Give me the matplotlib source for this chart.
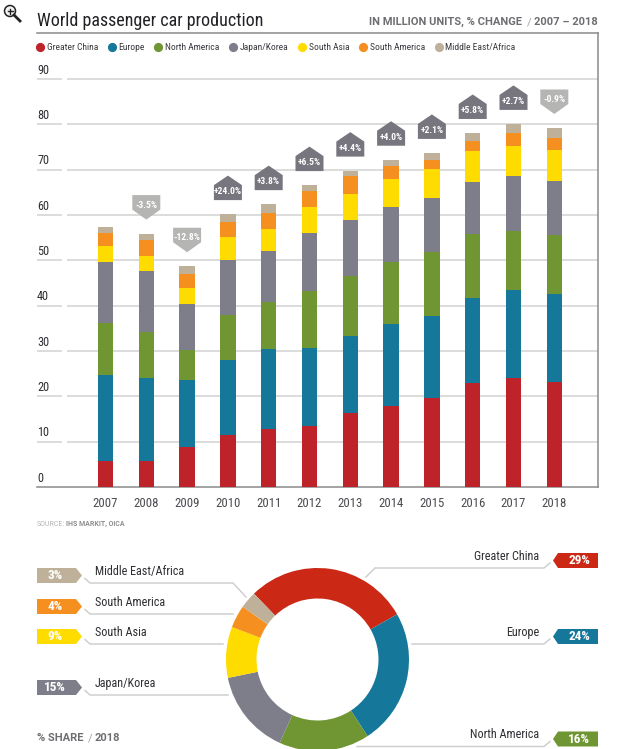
import matplotlib
matplotlib.use("Agg")
import matplotlib.pyplot as plt
from matplotlib.lines import Line2D
from matplotlib.patches import Polygon, Circle
from matplotlib.transforms import ScaledTranslation

W, H = 620, 749
NARROW = ['Roboto Condensed', 'Liberation Sans Narrow', 'Roboto', 'DejaVu Sans']
ROBOTO = ['Roboto', 'DejaVu Sans']
plt.rcParams['font.family'] = NARROW

years = list(range(2007, 2019))
regions = ['Greater China', 'Europe', 'North America', 'Japan/Korea',
           'South Asia', 'South America', 'Middle East/Africa']
greater_china = [5.7, 5.8, 8.8, 11.5, 12.7, 13.5, 16.3, 17.9, 19.6, 22.9, 24.0, 23.2]
europe = [19.0, 18.2, 14.8, 16.6, 17.7, 17.1, 17.1, 18.1, 18.1, 18.8, 19.5, 19.4]
north_america = [11.4, 10.3, 6.6, 9.9, 10.5, 12.6, 13.1, 13.7, 14.1, 14.1, 13.0, 12.9]
japan_korea = [13.6, 13.3, 10.1, 12.0, 11.1, 12.9, 12.5, 12.1, 12.0, 11.5, 12.1, 12.1]
south_asia = [3.5, 3.3, 3.5, 5.1, 4.9, 5.7, 5.7, 6.2, 6.4, 6.8, 6.6, 6.8]
south_america = [2.9, 3.5, 3.1, 3.3, 3.5, 3.5, 3.8, 2.9, 2.0, 2.2, 2.9, 2.6]
middle_east = [1.3, 1.5, 1.8, 1.8, 2.0, 1.3, 1.3, 1.3, 1.5, 1.8, 2.0, 2.2]
series = [greater_china, europe, north_america, japan_korea, south_asia, south_america, middle_east]
changes = ['', '-3.5%', '-12.8%', '+24.0%', '+3.8%', '+6.5%', '+4.4%', '+4.0%', '+2.1%', '+5.8%', '+2.7%', '-0.9%']
shares = [29, 24, 16, 15, 9, 4, 3]
yticks = [0, 10, 20, 30, 40, 50, 60, 70, 80, 90]

colors = ['#BE2329', '#15779A', '#6F9632', '#7E7E8A', '#FFDC00', '#F58F20', '#BFB199']
donut_colors = ['#CB2916', '#15779A', '#6F9632', '#7E7E8A', '#FFDC00', '#F58F20', '#BFB199']
INK, GREY, RULE = '#2E2E33', '#6E6E72', '#D5D5D5'

fig = plt.figure(figsize=(W / 100, H / 100), dpi=100, facecolor='white')


def box(l, t, r, b):
    return [l / W, 1 - b / H, (r - l) / W, (b - t) / H]


# Stacked bars
ax = fig.add_axes(box(37, 33, 598, 487))
step = 40.8
ax.set_xlim(2007 - (105.5 - 37) / step, 2007 + (598 - 105.5) / step)
ax.set_ylim(0, (487 - 33) / 4.533)
bottom = [0] * len(years)
for name, vals, c in zip(regions, series, colors):
    ax.bar(years, vals, 15.5 / step, bottom=bottom, color=c, label=name, zorder=3)
    bottom = [a + b for a, b in zip(bottom, vals)]
totals = bottom

ax.spines['left'].set_visible(False)
for s in ('top', 'right', 'bottom'):
    ax.spines[s].set_color('#8A8A8A')
    ax.spines[s].set_linewidth(1.1)
ytrans = ax.get_yaxis_transform()
for v in yticks[1:]:
    ax.plot([0, 25 / 561], [v, v], transform=ytrans, color=RULE, lw=1.2, zorder=1, solid_capstyle='butt')
    ax.plot([30 / 561, 1], [v, v], transform=ytrans, color=RULE, lw=1.2, zorder=1, solid_capstyle='butt')

ax.set_yticks(yticks)
ax.tick_params(axis='y', length=0, pad=0, labelsize=8.8, labelcolor=INK)
shift = ScaledTranslation(0, 7.5 / 72, fig.dpi_scale_trans)
for lab in ax.get_yticklabels():
    lab.set_ha('left')
    lab.set_transform(lab.get_transform() + shift)
ax.set_xticks(years)
ax.tick_params(axis='x', length=0, pad=7, labelsize=9.2, labelcolor='#4A4A50')

handles = [Line2D([], [], ls='', marker='o', ms=5.6, color=c) for c in colors]
leg = ax.legend(handles, regions, ncol=7, frameon=False, loc='center left',
                bbox_to_anchor=(-0.007, (487 - 48) / 454), prop={'size': 6.8},
                handletextpad=0.0, columnspacing=0.7, handlelength=1.45, borderpad=0, borderaxespad=0)
for t in leg.get_texts():
    t.set_color('#3A3A40')

# Overlay in image pixels for titles, badges and leader lines
ov = fig.add_axes([0, 0, 1, 1], zorder=5)
ov.set_xlim(0, W)
ov.set_ylim(H, 0)
ov.axis('off')
ov.patch.set_alpha(0)


def to_px(x, y):
    px, py = ax.transData.transform((x, y))
    return px * W / fig.bbox.width, H - py * H / fig.bbox.height


ov.text(37, 20.5, 'World passenger car production', family=NARROW, size=13, color='#222226',
        va='center', ha='left')
ov.text(522, 22, 'IN MILLION UNITS, % CHANGE', family=ROBOTO, size=8, weight='bold', color=GREY, va='center', ha='right')
ov.text(529, 22, '/', family=ROBOTO, size=8, color='#A0A0A0', va='center', ha='center')
ov.text(598, 22, '2007 – 2018', family=ROBOTO, size=8, weight='bold', color=GREY, va='center', ha='right')
ov.text(37, 524, 'SOURCE:', family=ROBOTO, size=5, color='#B5B5B5', va='center', ha='left')
ov.text(66, 524, 'IHS MARKIT, OICA', family=ROBOTO, size=5, weight='bold', color='#8E8E8E', va='center', ha='left')
ov.text(37, 738, '% SHARE', family=ROBOTO, size=8, weight='bold', color=GREY, va='center', ha='left')
ov.text(88, 738, '/', family=ROBOTO, size=8, color='#A0A0A0', va='center', ha='left')
ov.text(95, 738, '2018', family=ROBOTO, size=8, weight='bold', color=GREY, va='center', ha='left')

# Change badges above each bar
for yr, total, label in zip(years, totals, changes):
    if not label:
        continue
    cx, top = to_px(yr, total)
    hw = 14
    if label.startswith('+'):
        b = top - 14
        verts = [(cx - hw, b), (cx + hw, b), (cx + hw, b - 15), (cx, b - 24.5), (cx - hw, b - 15)]
        fc, ty = '#77767F', b - 8.5
    else:
        a = top - 14
        verts = [(cx - hw, a - 24.5), (cx + hw, a - 24.5), (cx + hw, a - 10), (cx, a), (cx - hw, a - 10)]
        fc, ty = '#B5B6B4', a - 14.5
    ov.add_patch(Polygon(verts, closed=True, fc=fc, ec='none'))
    ov.text(cx, ty, label, color='white', size=6.8, weight='bold', ha='center', va='center')

# Donut
dax = fig.add_axes(box(226, 568, 409, 751))
dax.pie(shares, colors=donut_colors, startangle=134, counterclock=False, radius=1,
        wedgeprops=dict(width=30.5 / 91.5, linewidth=0))
dax.set_xlim(-1, 1)
dax.set_ylim(-1, 1)

# Left and right callouts
left_y = [568, 599, 629, 680]
left_names = [regions[6], regions[5], regions[4], regions[3]]
left_vals = [shares[6], shares[5], shares[4], shares[3]]
left_cols = [colors[6], colors[5], colors[4], colors[3]]
left_ends = [[(233, 583), (246, 597)], [(233, 614)], [(223, 644)], [(228, 695)]]
for y, n, v, c, end in zip(left_y, left_names, left_vals, left_cols, left_ends):
    ov.add_patch(Polygon([(37, y), (76, y), (82, y + 7.5), (76, y + 15), (37, y + 15)], fc=c, ec='none'))
    ov.text(55, y + 7.8, f'{v}%', color='white', size=9.5, weight='bold', ha='center', va='center')
    ov.text(95, y + 4, n, color=INK, size=8.7, ha='left', va='center')
    pts = [(85, y + 10.5), (90, y + 15)] + end
    ov.plot(*zip(*pts), color='#CFCFCF', lw=1.1)

right_y = [553, 629, 731.5]
right_names = regions[:3]
right_vals = shares[:3]
right_cols = [donut_colors[0], colors[1], colors[2]]
right_ends = [[(366, 577), (375, 568)], [(412, 644)], [(357, 746.5)]]
for y, n, v, c, end in zip(right_y, right_names, right_vals, right_cols, right_ends):
    ov.add_patch(Polygon([(598, y), (558, y), (553, y + 7.5), (558, y + 15), (598, y + 15)], fc=c, ec='none'))
    ov.text(579, y + 8, f'{v}%', color='white', size=9.5, weight='bold', ha='center', va='center')
    ov.text(539, y + 3.5, n, color=INK, size=8.7, ha='right', va='center')
    pts = end + [(544, y + 15), (550, y + 10)]
    ov.plot(*zip(*pts), color='#CFCFCF', lw=1.1)

# Magnifier mark at the top-left corner of the screenshot
ov.add_patch(Circle((10, 11), 5.5, fc='#F4F4F4', ec='#222222', lw=1.1))
ov.plot([14, 20], [15, 21], color='#222222', lw=2)
ov.plot([7.5, 12.5], [11, 11], color='#222222', lw=1)
ov.plot([10, 10], [8.5, 13.5], color='#222222', lw=1)

fig.savefig('out.png', dpi=100)
